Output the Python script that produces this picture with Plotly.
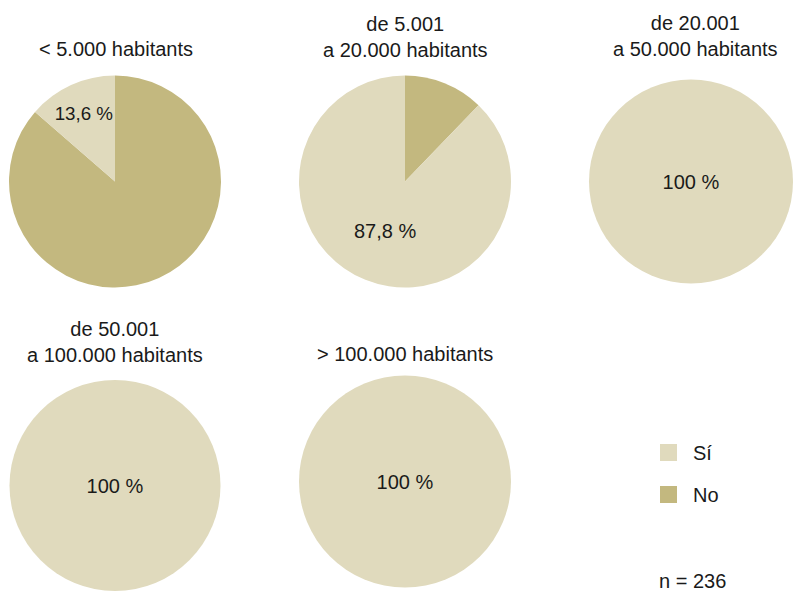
import plotly.graph_objects as go

# ---- data ----
categories = ["< 5.000 habitants", "de 5.001<br>a 20.000 habitants", "de 20.001<br>a 50.000 habitants",
              "de 50.001<br>a 100.000 habitants", "> 100.000 habitants"]
answers = ["Sí", "No"]
si_values = [13.6, 87.8, 100.0, 100.0, 100.0]
no_values = [86.4, 12.2, 0.0, 0.0, 0.0]
sample_note = "n = 236"

# ---- style ----
W, H = 793, 591
FONT = "Liberation Sans"
FS = 20
color_map = {"Sí": "#e0dabd", "No": "#c3b87f"}
TXT = "#1a1a1a"

# pie geometry in pixels (center x, center y from top, radius)
geo = [(115, 181.5, 106), (405, 181.5, 106), (691, 181.5, 102), (115, 485.5, 105.5), (405, 481.5, 106)]
# title anchor (center x, center y from top of text block)
title_pos = [(115.5, 49.2), (405, 36.7), (695, 36.3), (115, 342), (405, 353.8)]

def fmt(v):
    s = f"{v:.1f}".replace(".", ",")
    if s.endswith(",0"):
        s = s[:-2]
    return s + " %"

# slice drawing order: "No" first clockwise from 12 o'clock, then "Sí"
slice_order = ["No", "Sí"]

fig = go.Figure()
for i, (cat, si, no) in enumerate(zip(categories, si_values, no_values)):
    cx, cy, r = geo[i]
    vals = {"Sí": si, "No": no}
    txts = {"Sí": fmt(si), "No": ""}
    fig.add_trace(go.Pie(
        labels=slice_order,
        values=[vals[k] for k in slice_order],
        text=[txts[k] for k in slice_order],
        textinfo="text",
        textposition="inside",
        insidetextorientation="horizontal",
        insidetextfont=dict(family=FONT, size=FS, color=TXT),
        sort=False,
        direction="clockwise",
        rotation=0,
        marker=dict(colors=[color_map[k] for k in slice_order], line=dict(width=0)),
        domain=dict(x=[(cx - r) / W, min(1, (cx + r) / W)],
                    y=[max(0, 1 - (cy + r) / H), 1 - (cy - r) / H]),
        showlegend=False,
        hoverinfo="label+percent",
    ))
    tx, ty = title_pos[i]
    fig.add_annotation(text=cat, xref="paper", yref="paper", x=tx / W, y=1 - ty / H,
                       xanchor="center", yanchor="middle", showarrow=False, align="center",
                       font=dict(family=FONT, size=FS, color=TXT))

# legend (drawn as layout decoration)
leg_x, leg_y0, leg_dy, box = 660, 444, 42, 17
for j, lab in enumerate(answers):
    y0 = leg_y0 + j * leg_dy
    fig.add_shape(type="rect", xref="paper", yref="paper",
                  x0=leg_x / W, x1=(leg_x + box) / W, y0=1 - (y0 + box) / H, y1=1 - y0 / H,
                  fillcolor=color_map[lab], line=dict(width=0))
    fig.add_annotation(text=lab, xref="paper", yref="paper", x=(leg_x + 31) / W, y=1 - (y0 + box / 2) / H,
                       xanchor="left", yanchor="middle", showarrow=False,
                       font=dict(family=FONT, size=FS, color=TXT))

fig.add_annotation(text=sample_note, xref="paper", yref="paper", x=657 / W, y=1 - 581.3 / H,
                   xanchor="left", yanchor="middle", showarrow=False,
                   font=dict(family=FONT, size=FS, color=TXT))

fig.update_layout(
    width=W, height=H,
    margin=dict(l=0, r=0, t=0, b=0),
    paper_bgcolor="white", plot_bgcolor="white",
    font=dict(family=FONT, size=FS, color=TXT),
    showlegend=False,
)

fig.write_html("out.html", config={"displayModeBar": False},
               post_script="document.body.style.margin='0';document.body.style.overflow='hidden';")
